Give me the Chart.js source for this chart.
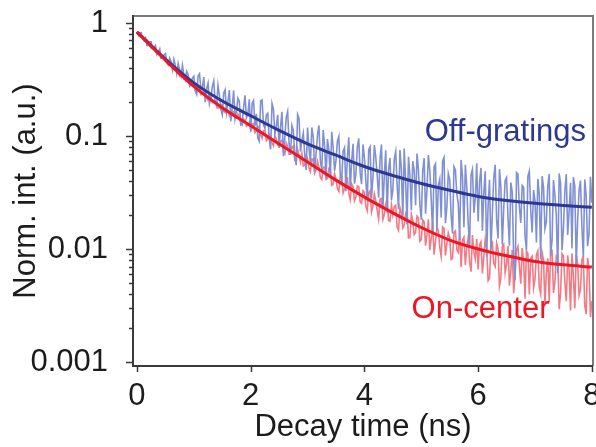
<!DOCTYPE html>
<html><head><meta charset="utf-8">
<script src="https://cdn.jsdelivr.net/npm/chart.js@4/dist/chart.umd.min.js"></script>
<style>html,body{margin:0;padding:0;background:#fff;overflow:hidden}#wrap{width:596px;height:447px;position:relative}</style>
</head><body><div id="wrap"><canvas id="c" width="596" height="447"></canvas></div>
<script>
// ---- data ----
const dataTimes = [
0,0.025,0.05,0.075,0.1,0.125,0.15,0.175,0.2,0.225,0.25,0.275,0.3,0.325,0.35,0.375,0.4,0.425,0.45,0.475,
0.5,0.525,0.55,0.575,0.6,0.625,0.65,0.675,0.7,0.725,0.75,0.775,0.8,0.825,0.85,0.875,0.9,0.925,0.95,0.975,
1,1.025,1.05,1.075,1.1,1.125,1.15,1.175,1.2,1.225,1.25,1.275,1.3,1.325,1.35,1.375,1.4,1.425,1.45,1.475,
1.5,1.525,1.55,1.575,1.6,1.625,1.65,1.675,1.7,1.725,1.75,1.775,1.8,1.825,1.85,1.875,1.9,1.925,1.95,1.975,
2,2.025,2.05,2.075,2.1,2.125,2.15,2.175,2.2,2.225,2.25,2.275,2.3,2.325,2.35,2.375,2.4,2.425,2.45,2.475,
2.5,2.525,2.55,2.575,2.6,2.625,2.65,2.675,2.7,2.725,2.75,2.775,2.8,2.825,2.85,2.875,2.9,2.925,2.95,2.975,
3,3.025,3.05,3.075,3.1,3.125,3.15,3.175,3.2,3.225,3.25,3.275,3.3,3.325,3.35,3.375,3.4,3.425,3.45,3.475,
3.5,3.525,3.55,3.575,3.6,3.625,3.65,3.675,3.7,3.725,3.75,3.775,3.8,3.825,3.85,3.875,3.9,3.925,3.95,3.975,
4,4.025,4.05,4.075,4.1,4.125,4.15,4.175,4.2,4.225,4.25,4.275,4.3,4.325,4.35,4.375,4.4,4.425,4.45,4.475,
4.5,4.525,4.55,4.575,4.6,4.625,4.65,4.675,4.7,4.725,4.75,4.775,4.8,4.825,4.85,4.875,4.9,4.925,4.95,4.975,
5,5.025,5.05,5.075,5.1,5.125,5.15,5.175,5.2,5.225,5.25,5.275,5.3,5.325,5.35,5.375,5.4,5.425,5.45,5.475,
5.5,5.525,5.55,5.575,5.6,5.625,5.65,5.675,5.7,5.725,5.75,5.775,5.8,5.825,5.85,5.875,5.9,5.925,5.95,5.975,
6,6.025,6.05,6.075,6.1,6.125,6.15,6.175,6.2,6.225,6.25,6.275,6.3,6.325,6.35,6.375,6.4,6.425,6.45,6.475,
6.5,6.525,6.55,6.575,6.6,6.625,6.65,6.675,6.7,6.725,6.75,6.775,6.8,6.825,6.85,6.875,6.9,6.925,6.95,6.975,
7,7.025,7.05,7.075,7.1,7.125,7.15,7.175,7.2,7.225,7.25,7.275,7.3,7.325,7.35,7.375,7.4,7.425,7.45,7.475,
7.5,7.525,7.55,7.575,7.6,7.625,7.65,7.675,7.7,7.725,7.75,7.775,7.8,7.825,7.85,7.875,7.9,7.925,7.95,7.975,8];

const offGratingsRaw = [
0.832,0.777,0.818,0.820,0.723,0.732,0.747,0.631,0.634,0.681,0.681,0.596,0.609,0.633,0.525,0.550,0.589,0.489,0.496,0.522,
0.536,0.458,0.429,0.490,0.457,0.386,0.476,0.420,0.355,0.439,0.387,0.341,0.422,0.346,0.314,0.373,0.348,0.279,0.298,0.326,
0.339,0.249,0.233,0.340,0.356,0.256,0.269,0.332,0.199,0.263,0.294,0.193,0.218,0.274,0.308,0.202,0.185,0.281,0.229,0.173,
0.155,0.241,0.257,0.164,0.202,0.255,0.135,0.180,0.253,0.142,0.167,0.216,0.202,0.126,0.129,0.179,0.229,0.145,0.156,0.211,
0.109,0.194,0.206,0.123,0.157,0.0952,0.0897,0.204,0.208,0.125,0.117,0.154,0.159,0.0938,0.0763,0.194,0.173,0.103,0.122,0.154,
0.0784,0.121,0.164,0.0663,0.0975,0.146,0.165,0.0859,0.0680,0.124,0.112,0.0675,0.0552,0.155,0.143,0.0730,0.0918,0.106,0.0683,0.0501,
0.119,0.0774,0.0582,0.119,0.0976,0.0482,0.0699,0.102,0.124,0.0598,0.0501,0.113,0.0815,0.0425,0.0941,0.0752,0.0425,0.109,0.0796,0.0492,
0.0608,0.0902,0.0992,0.0457,0.0401,0.0734,0.0789,0.0324,0.0648,0.0976,0.0332,0.0596,0.0854,0.0378,0.0460,0.0795,0.0955,0.0473,0.0374,0.0842,
0.0644,0.0399,0.0264,0.0757,0.0803,0.0282,0.0432,0.0830,0.0649,0.0445,0.0284,0.0631,0.0842,0.0229,0.0449,0.0749,0.0209,0.0506,0.0638,0.0271,
0.0335,0.0620,0.0726,0.0371,0.0225,0.0751,0.0511,0.0190,0.0775,0.0395,0.0165,0.0654,0.0447,0.0221,0.0599,0.0495,0.0244,0.0700,0.0502,0.0249,
0.0182,0.0490,0.0638,0.0205,0.0333,0.0679,0.0493,0.0272,0.0137,0.0536,0.0568,0.0148,0.0368,0.0416,0.0190,0.0599,0.0646,0.0169,0.0235,0.0466,
0.0414,0.0197,0.0137,0.0536,0.0501,0.0305,0.0255,0.0120,0.0614,0.0438,0.0156,0.0556,0.0353,0.0168,0.0106,0.0452,0.0508,0.0209,0.0281,0.0573,
0.0175,0.0393,0.0522,0.0145,0.0317,0.0488,0.00855,0.0241,0.0410,0.00987,0.0211,0.0434,0.0556,0.0180,0.0124,0.0509,0.0356,0.0109,0.0230,0.0405,
0.0430,0.0188,0.0107,0.0387,0.0319,0.00795,0.00528,0.0475,0.0460,0.0236,0.0170,0.0365,0.0351,0.0130,0.00980,0.0439,0.0488,0.0218,0.0140,0.0332,
0.0267,0.0114,0.0417,0.0304,0.00806,0.0441,0.0351,0.0151,0.0175,0.0363,0.0461,0.00872,0.0119,0.0408,0.0295,0.0197,0.00613,0.0466,0.0378,0.00976,
0.0151,0.0328,0.0460,0.0133,0.0217,0.0386,0.0101,0.0432,0.0359,0.00717,0.0179,0.0333,0.0403,0.0154,0.00850,0.0413,0.0294,0.0106,0.0136,0.0435,0.0257];

const onCenterRaw = [
0.832,0.824,0.761,0.748,0.763,0.691,0.686,0.707,0.687,0.623,0.599,0.624,0.601,0.561,0.539,0.551,0.541,0.490,0.490,0.495,
0.477,0.442,0.426,0.445,0.438,0.390,0.387,0.404,0.397,0.361,0.341,0.366,0.347,0.318,0.317,0.323,0.318,0.289,0.278,0.288,
0.283,0.258,0.251,0.271,0.267,0.232,0.235,0.245,0.236,0.219,0.206,0.229,0.223,0.197,0.199,0.204,0.202,0.177,0.177,0.191,
0.189,0.165,0.161,0.180,0.168,0.151,0.146,0.165,0.164,0.144,0.144,0.157,0.149,0.129,0.125,0.141,0.139,0.122,0.125,0.133,
0.114,0.128,0.129,0.107,0.111,0.122,0.116,0.102,0.0954,0.112,0.112,0.0910,0.0940,0.103,0.0992,0.0871,0.0819,0.0993,0.0949,0.0826,
0.0817,0.0902,0.0918,0.0725,0.0696,0.0870,0.0809,0.0689,0.0691,0.0793,0.0814,0.0612,0.0587,0.0758,0.0679,0.0589,0.0699,0.0542,0.0551,0.0672,
0.0636,0.0520,0.0483,0.0625,0.0625,0.0468,0.0502,0.0596,0.0534,0.0429,0.0412,0.0529,0.0530,0.0413,0.0420,0.0519,0.0518,0.0366,0.0373,0.0465,
0.0415,0.0344,0.0323,0.0441,0.0437,0.0313,0.0341,0.0426,0.0426,0.0314,0.0274,0.0377,0.0357,0.0267,0.0288,0.0361,0.0358,0.0261,0.0253,0.0328,
0.0317,0.0238,0.0218,0.0315,0.0329,0.0212,0.0240,0.0308,0.0266,0.0219,0.0184,0.0277,0.0280,0.0182,0.0202,0.0252,0.0278,0.0179,0.0176,0.0246,
0.0199,0.0237,0.0244,0.0156,0.0146,0.0233,0.0210,0.0154,0.0163,0.0205,0.0225,0.0125,0.0126,0.0204,0.0179,0.0134,0.0140,0.0196,0.0189,0.0117,
0.0121,0.0181,0.0174,0.0107,0.0135,0.0183,0.00979,0.0125,0.0171,0.00890,0.0116,0.0155,0.0146,0.0103,0.00858,0.0157,0.0152,0.00875,0.0111,0.0139,
0.0126,0.00809,0.00826,0.0140,0.0145,0.00989,0.00935,0.0140,0.00694,0.0120,0.0127,0.00719,0.0103,0.0126,0.00763,0.00630,0.0133,0.00948,0.00816,0.0123,
0.00660,0.0109,0.0116,0.00608,0.00856,0.0122,0.0101,0.00524,0.00549,0.0108,0.0114,0.00742,0.00699,0.0113,0.00999,0.00469,0.00555,0.0105,0.0110,0.00614,
0.00740,0.0106,0.00474,0.00642,0.00979,0.00406,0.00606,0.00988,0.0106,0.00703,0.00493,0.0102,0.00772,0.00364,0.00965,0.00919,0.00397,0.00830,0.00864,0.00453,
0.00543,0.00890,0.00964,0.00461,0.00398,0.00932,0.00799,0.00318,0.00619,0.00828,0.00338,0.00957,0.00969,0.00409,0.00503,0.00870,0.00844,0.00293,0.00408,0.00909,
0.00869,0.00506,0.00346,0.00878,0.00646,0.00286,0.00914,0.00570,0.00299,0.00895,0.00743,0.00389,0.00437,0.00810,0.00856,0.00315,0.00265,0.00836,0.00660,0.00250,0.00346];

const fitTimes = [0,0.5,1,1.5,2,2.5,3,3.5,4,4.5,5,5.5,6,6.5,7,7.5,8];
const offGratingsFit = [0.832,0.479,0.295,0.204,0.151,0.112,0.0851,0.0676,0.0537,0.0447,0.0380,0.0331,0.0292,0.0269,0.0254,0.0243,0.0234];
const onCenterFit = [0.832,0.468,0.275,0.178,0.123,0.0851,0.0589,0.0407,0.0288,0.0209,0.0155,0.0120,0.0100,0.0087,0.00776,0.00724,0.00692];

const xTickValues = [0,2,4,6,8];
const xTickLabels = ['0','2','4','6','8'];
const yTickValues = [0.001,0.01,0.1,1];
const yTickLabels = ['0.001','0.01','0.1','1'];
const yMinorTicks = [0.002,0.003,0.004,0.005,0.006,0.007,0.008,0.009,0.02,0.03,0.04,0.05,0.06,0.07,0.08,0.09,0.2,0.3,0.4,0.5,0.6,0.7,0.8,0.9];

const seriesNames = ['Off-gratings','On-center'];
const xTitle = 'Decay time (ns)';
const yTitle = 'Norm. int. (a.u.)';

// ---- styles ----
const FONT = "'Liberation Sans', Arial, sans-serif";
const FS = 31;
const TXT = '#1c1c1c';
const BLUE_DATA = 'rgb(128,144,212)';
const RED_DATA = 'rgb(241,122,132)';
const BLUE_FIT = 'rgb(44,56,145)';
const RED_FIT = 'rgb(236,22,36)';

const pts = (xs, ys) => ys.map((v, i) => ({x: xs[i], y: v}));
const noPad = s => { s.paddingTop = 0; s.paddingBottom = 0; s.paddingLeft = 0; s.paddingRight = 0; };

const decor = {
  id: 'decor',
  afterDraw(chart) {
    const {ctx, chartArea: a, scales: {x, y}} = chart;
    ctx.save();
    ctx.strokeStyle = '#7a7a7a'; ctx.lineWidth = 2;
    ctx.beginPath();
    ctx.moveTo(a.left, a.top); ctx.lineTo(a.right, a.top); ctx.lineTo(a.right, a.bottom);
    ctx.stroke();
    ctx.strokeStyle = '#3a3a3a'; ctx.lineWidth = 2;
    ctx.beginPath();
    ctx.moveTo(a.left, a.top - 1); ctx.lineTo(a.left, a.bottom + 1);
    ctx.moveTo(a.left - 1, a.bottom); ctx.lineTo(a.right, a.bottom);
    ctx.stroke();
    ctx.lineWidth = 1.5;
    ctx.beginPath();
    yTickValues.forEach(v => { const py = Math.round(y.getPixelForValue(v)) + 0.5; ctx.moveTo(a.left - 7, py); ctx.lineTo(a.left, py); });
    yMinorTicks.forEach(v => { const py = Math.round(y.getPixelForValue(v)) + 0.5; ctx.moveTo(a.left - 4, py); ctx.lineTo(a.left, py); });
    xTickValues.forEach(v => { const px = Math.round(x.getPixelForValue(v)) + 0.5; ctx.moveTo(px, a.bottom); ctx.lineTo(px, a.bottom + 6); });
    ctx.stroke();
    ctx.font = FS + "px " + FONT;
    ctx.textBaseline = 'alphabetic';
    ctx.textAlign = 'left';
    ctx.fillStyle = BLUE_FIT;
    ctx.fillText(seriesNames[0], x.getPixelForValue(5.06), y.getPixelForValue(0.0903));
    ctx.fillStyle = RED_FIT;
    ctx.fillText(seriesNames[1], x.getPixelForValue(4.83), y.getPixelForValue(0.00245));
    ctx.restore();
  }
};

new Chart(document.getElementById('c'), {
  type: 'line',
  data: {
    datasets: [
      {label: seriesNames[1] + ' fit', data: pts(fitTimes, onCenterFit), borderColor: RED_FIT, borderWidth: 3, pointRadius: 0, cubicInterpolationMode: 'monotone'},
      {label: seriesNames[0] + ' fit', data: pts(fitTimes, offGratingsFit), borderColor: BLUE_FIT, borderWidth: 3, pointRadius: 0, cubicInterpolationMode: 'monotone'},
      {label: seriesNames[0], data: pts(dataTimes, offGratingsRaw), borderColor: BLUE_DATA, borderWidth: 1.6, pointRadius: 0, tension: 0},
      {label: seriesNames[1], data: pts(dataTimes, onCenterRaw), borderColor: RED_DATA, borderWidth: 1.6, pointRadius: 0, tension: 0}
    ]
  },
  options: {
    responsive: false, animation: false, events: [],
    layout: {padding: {top: 16, right: 3, left: 0, bottom: 0}},
    plugins: {legend: {display: false}, tooltip: {enabled: false}},
    scales: {
      x: {
        type: 'linear', min: -0.07, max: 8.02,
        afterBuildTicks: s => { s.ticks = xTickValues.map(v => ({value: v})); },
        afterFit: s => { s.height = 81; noPad(s); },
        grid: {display: false, drawTicks: false}, border: {display: false},
        ticks: {font: {family: FONT, size: FS}, color: TXT, padding: 12, maxRotation: 0, autoSkip: false,
          callback: (v, i) => xTickLabels[i]},
        title: {display: true, text: xTitle, font: {family: FONT, size: FS}, color: TXT, padding: {top: 0, bottom: 1}}
      },
      y: {
        type: 'logarithmic', min: 0.000922, max: 1.153,
        afterBuildTicks: s => { s.ticks = yTickValues.map(v => ({value: v, major: true})); },
        afterFit: s => { s.width = 133; noPad(s); },
        grid: {display: false, drawTicks: false}, border: {display: false},
        ticks: {font: {family: FONT, size: FS}, color: TXT, padding: 25, autoSkip: false,
          callback: (v, i) => yTickLabels[i]},
        title: {display: true, text: yTitle, font: {family: FONT, size: FS}, color: TXT, padding: {top: 8, bottom: 0}}
      }
    }
  },
  plugins: [decor]
});
</script></body></html>
